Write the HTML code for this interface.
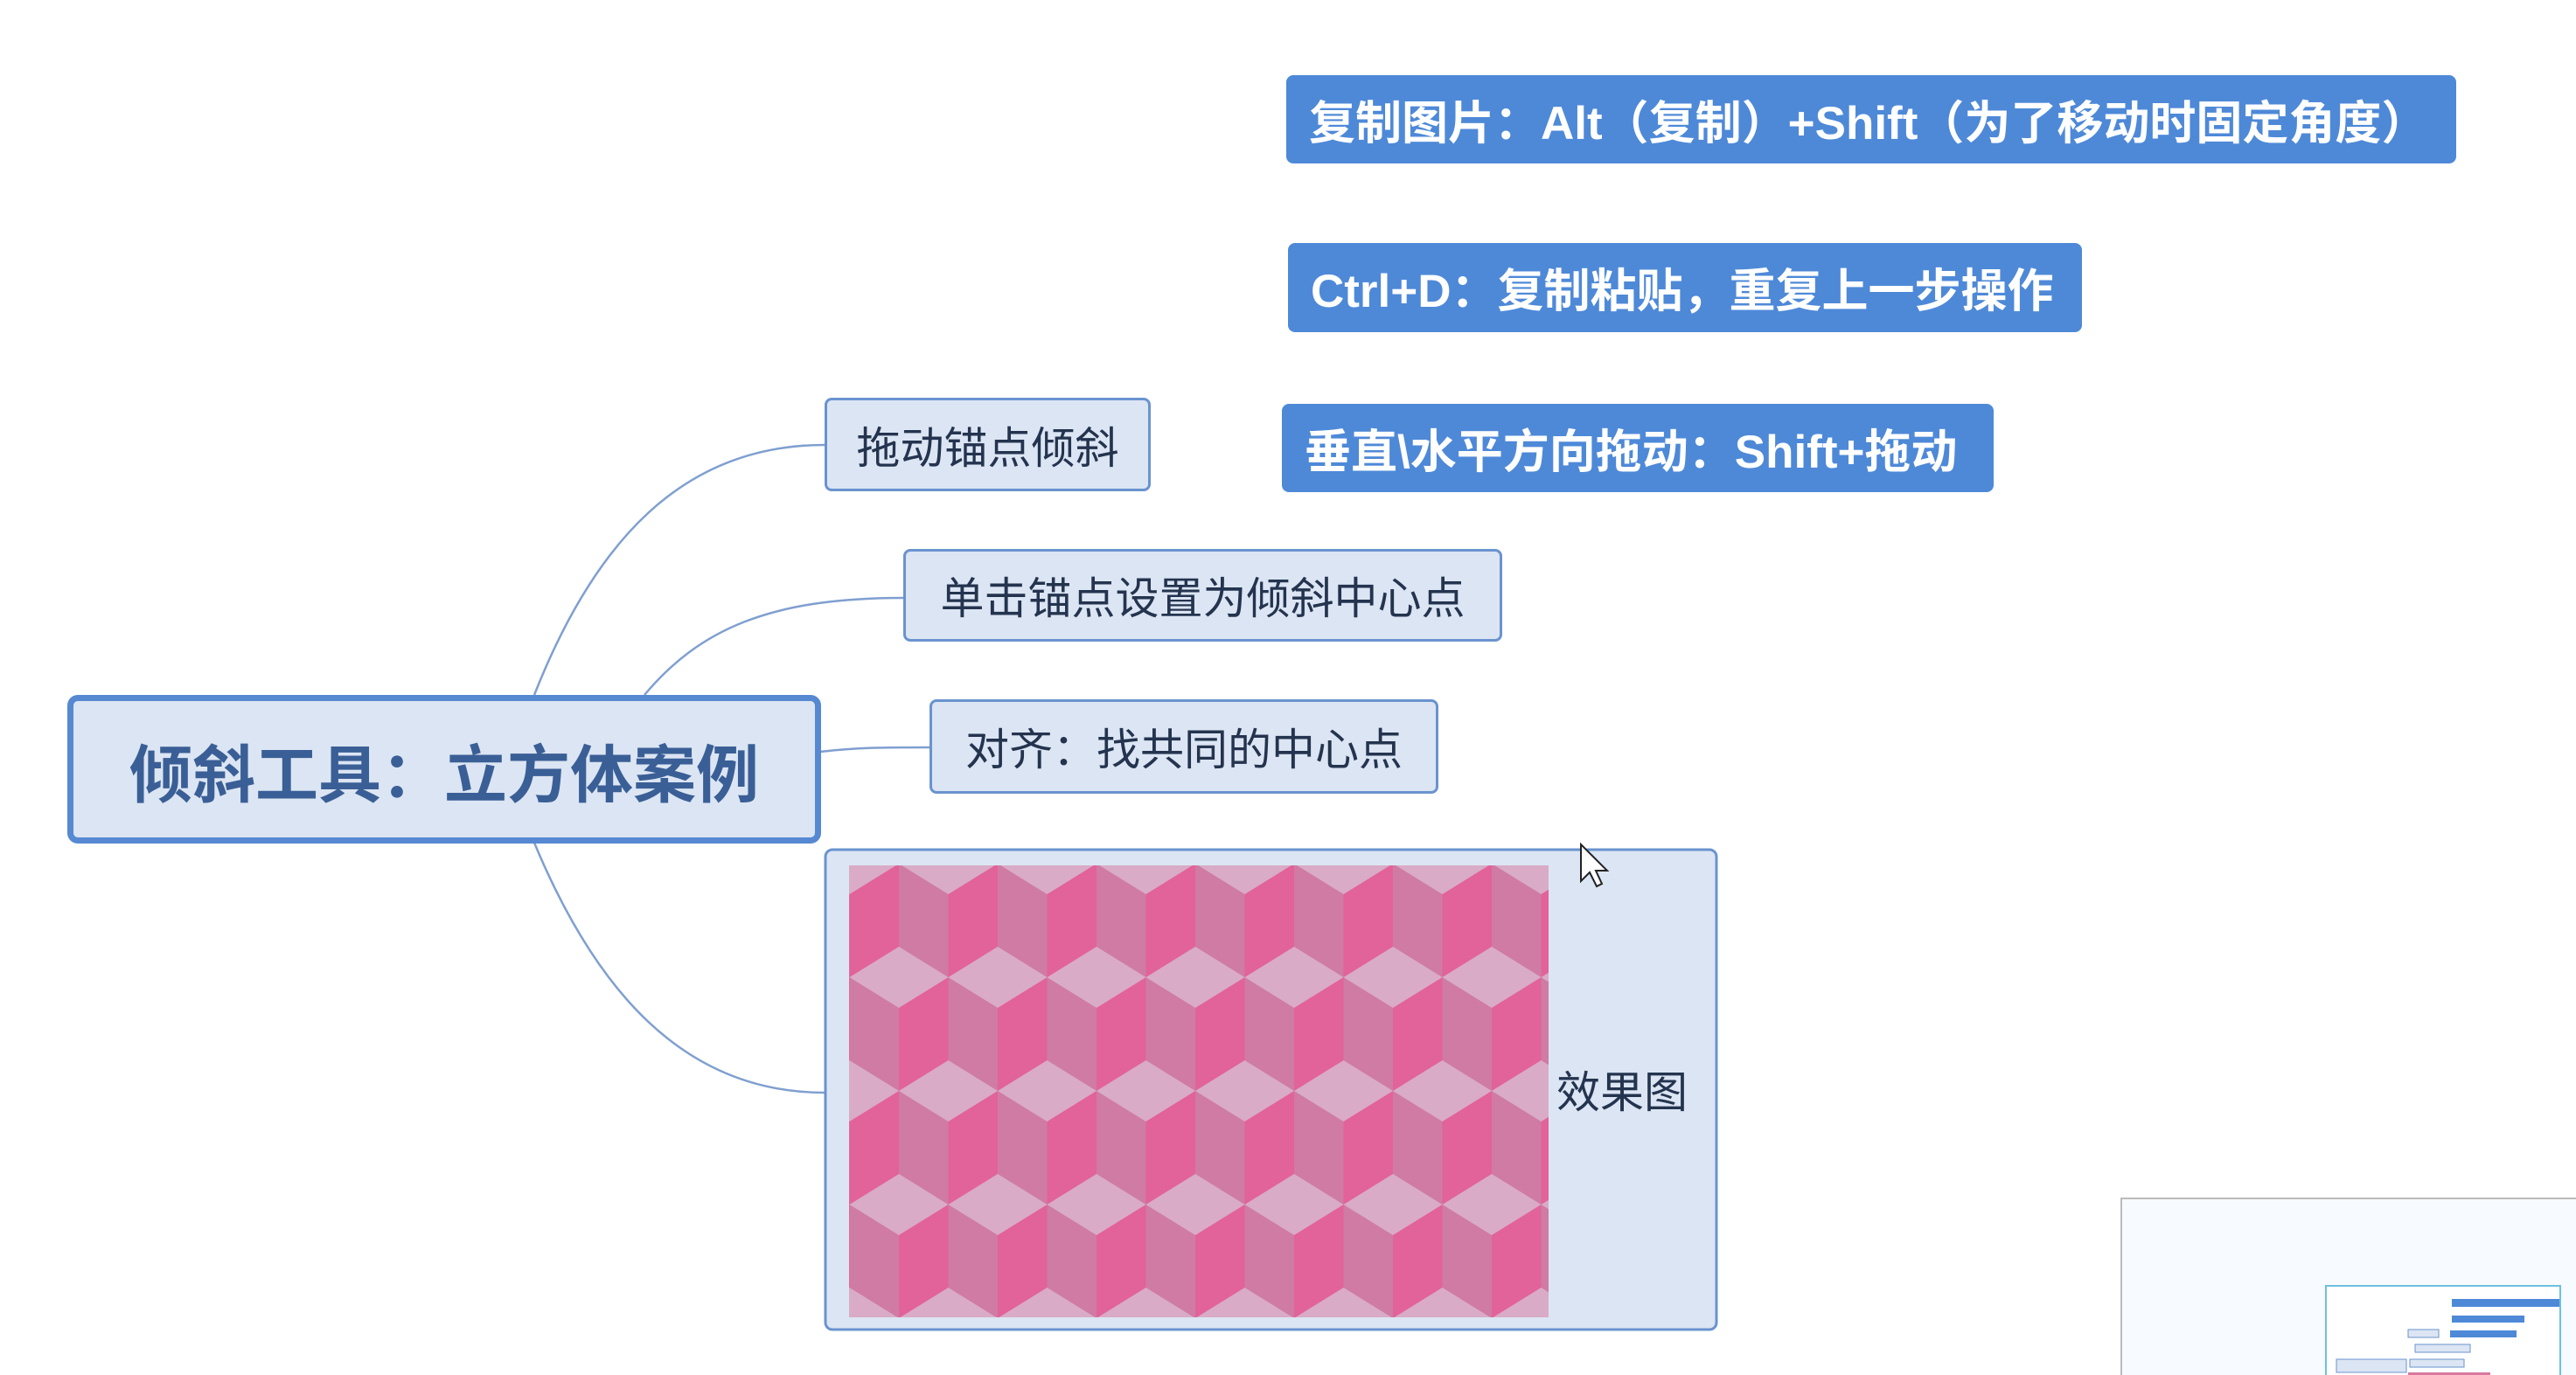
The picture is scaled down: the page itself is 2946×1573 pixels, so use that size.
<!DOCTYPE html>
<html><head><meta charset="utf-8"><style>
html,body{margin:0;padding:0;background:#fff;}
body{width:2946px;height:1573px;position:relative;overflow:hidden;font-family:"Liberation Sans","Noto Sans CJK SC",sans-serif;}
.n{position:absolute;box-sizing:border-box;background:#dce5f3;border:3px solid #6a93cf;border-radius:8px;color:#24344f;font-size:50px;display:flex;align-items:center;justify-content:center;white-space:nowrap;}
.b{position:absolute;box-sizing:border-box;background:#4e89d8;border-radius:8px;color:#fff;font-weight:bold;font-size:53px;display:flex;align-items:center;padding-left:26px;white-space:nowrap;}
</style></head><body>
<svg width="2946" height="1573" style="position:absolute;left:0;top:0">
<defs>
<g id="c">
<polygon points="-56.5,35 0,70 0,165 -56.5,130" fill="#cf7ba4"/>
<polygon points="0,70 56.5,35 56.5,130 0,165" fill="#e2629a"/>
</g>
<pattern id="cube" patternUnits="userSpaceOnUse" x="971.5" y="1083" width="113" height="260">
<rect width="113" height="260" fill="#d9abc6"/>
<use href="#c" x="56.5" y="0"/>
<use href="#c" x="0" y="130"/><use href="#c" x="113" y="130"/>
<use href="#c" x="0" y="-130"/><use href="#c" x="113" y="-130"/>
<use href="#c" x="56.5" y="260"/><use href="#c" x="56.5" y="-260"/>
</pattern>
</defs>
<g fill="none" stroke="#7f9fd0" stroke-width="2.5">
<path d="M611,795 C680,620 780,509 943,509"/>
<path d="M737,795 C800,720 880,684 1033,684"/>
<path d="M938,860 C980,855 1010,855 1063,855"/>
<path d="M611,964 C680,1130 780,1250 943,1250"/>
</g>
<rect x="944" y="972" width="1019" height="549" rx="8" fill="#dce5f3" stroke="#6a93cf" stroke-width="3"/>
<rect x="971" y="990" width="800" height="517" fill="url(#cube)"/>
<text x="1855" y="1267" font-size="50" fill="#24344f" text-anchor="middle" font-family="Liberation Sans, Noto Sans CJK SC, sans-serif">效果图</text>
<rect x="2426" y="1371" width="540" height="220" fill="#f7fbff" stroke="#bbb" stroke-width="2"/>
<rect x="2660" y="1471" width="268" height="120" fill="#fff" stroke="#6ec0e0" stroke-width="2"/>
<rect x="2804" y="1486" width="123" height="9" fill="#4e89d8"/>
<rect x="2804" y="1505" width="83" height="8" fill="#4e89d8"/>
<rect x="2802" y="1522" width="76" height="8" fill="#4e89d8"/>
<rect x="2754" y="1521" width="35" height="9" fill="#dce5f3" stroke="#6a93cf"/>
<rect x="2762" y="1538" width="63" height="9" fill="#dce5f3" stroke="#6a93cf"/>
<rect x="2756" y="1555" width="62" height="9" fill="#dce5f3" stroke="#6a93cf"/>
<rect x="2672" y="1555" width="80" height="15" fill="#dce5f3" stroke="#6a93cf"/>
<rect x="2754" y="1570" width="94" height="5" fill="#d9789f"/>
<path d="M1808,966 L1808,1008 L1818,998 L1826,1014 L1832,1011 L1825,996 L1838,996 Z" fill="#fff" stroke="#222" stroke-width="2"/>
</svg>
<div class="n" style="left:77px;top:795px;width:862px;height:170px;border:7px solid #5689d2;border-radius:12px;font-size:72px;font-weight:bold;color:#3a5f96;">倾斜工具：立方体案例</div>
<div class="n" style="left:943px;top:455px;width:373px;height:107px;">拖动锚点倾斜</div>
<div class="n" style="left:1033px;top:628px;width:685px;height:106px;">单击锚点设置为倾斜中心点</div>
<div class="n" style="left:1063px;top:800px;width:582px;height:108px;">对齐：找共同的中心点</div>
<div class="b" style="left:1471px;top:86px;width:1338px;height:101px;">复制图片：Alt（复制）+Shift（为了移动时固定角度）</div>
<div class="b" style="left:1473px;top:278px;width:908px;height:102px;">Ctrl+D：复制粘贴，重复上一步操作</div>
<div class="b" style="left:1466px;top:462px;width:814px;height:101px;">垂直\水平方向拖动：Shift+拖动</div>
</body></html>
